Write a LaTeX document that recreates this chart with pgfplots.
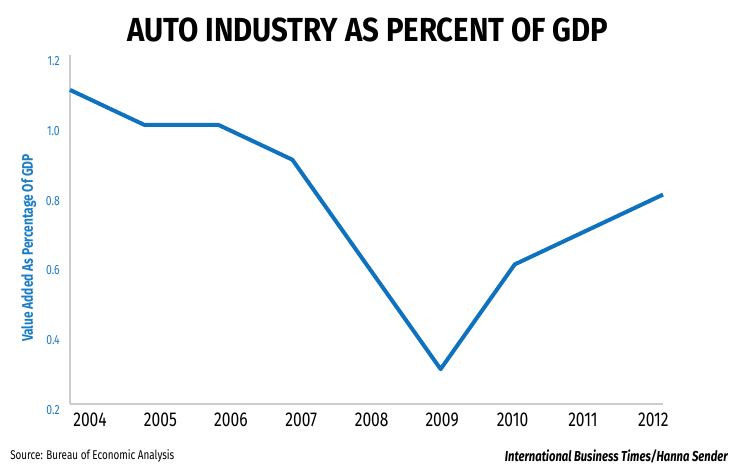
\documentclass[border=0pt]{standalone}
\usepackage{fontspec}
\setmainfont{Fira Sans}
\newfontfamily\cf{Fira Sans}[FakeStretch=0.78]
\newfontfamily\tf{Fira Sans}[FakeStretch=0.88]
\usepackage{pgfplots}
\pgfplotsset{compat=1.18}
\definecolor{lineblue}{HTML}{0E72BE}
\definecolor{labblue}{HTML}{1C7CC4}
\definecolor{axgray}{HTML}{CCCCCC}
\begin{document}
\begin{tikzpicture}
\path[use as bounding box] (0,0) rectangle (552pt,351.75pt);
\begin{axis}[
  at={(52.5pt,48.75pt)}, anchor=south west,
  scale only axis, width=444.75pt, height=261.75pt,
  xmin=2004, xmax=2012, ymin=0.2, ymax=1.2,
  axis x line*=bottom, axis y line*=left,
  axis line style={-, draw=axgray, line width=1.5pt},
  major tick length=0pt,
  xtick={2004.27,2005.22,2006.17,2007.12,2008.07,2009.02,2009.97,2010.92,2011.87},
  xticklabels={2004,2005,2006,2007,2008,2009,2010,2011,2012},
  ytick={0.2,0.4,0.6,0.8,1.0,1.2},
  /pgf/number format/.cd, fixed, fixed zerofill, precision=1, assume math mode=true,
  /pgfplots/.cd,
  xticklabel style={anchor=north, inner sep=0pt, yshift=-6.5pt, text=black, font=\cf\fontsize{15}{15}\selectfont},
  yticklabel style={anchor=east, inner sep=0pt, xshift=-7.5pt, yshift=-4.5pt, text=labblue, font=\cf\fontsize{10}{10}\selectfont},
  clip=false,
]
\addplot[lineblue, line width=3pt, line join=round, no marks] coordinates {
  (2004,1.10) (2005,1.00) (2006,1.00) (2007,0.90) (2008,0.60)
  (2009,0.30) (2010,0.60) (2011,0.70) (2012,0.80)
};
\end{axis}
\node[font=\tf\bfseries\fontsize{25}{25}\selectfont] at (276pt,329.25pt) {AUTO INDUSTRY AS PERCENT OF GDP};
\node[rotate=90, text=labblue, font=\cf\bfseries\fontsize{11.5}{11.5}\selectfont] at (21.5pt,165.75pt) {Value Added As Percentage Of GDP};
\node[anchor=west, inner sep=0pt, font=\cf\fontsize{9.5}{9.5}\selectfont] at (7.5pt,9.75pt) {Source: Bureau of Economic Analysis};
\node[anchor=east, inner sep=0pt, font=\cf\bfseries\itshape\fontsize{10.8}{10.8}\selectfont] at (546pt,9.75pt) {International Business Times/Hanna Sender};
\end{tikzpicture}
\end{document}
